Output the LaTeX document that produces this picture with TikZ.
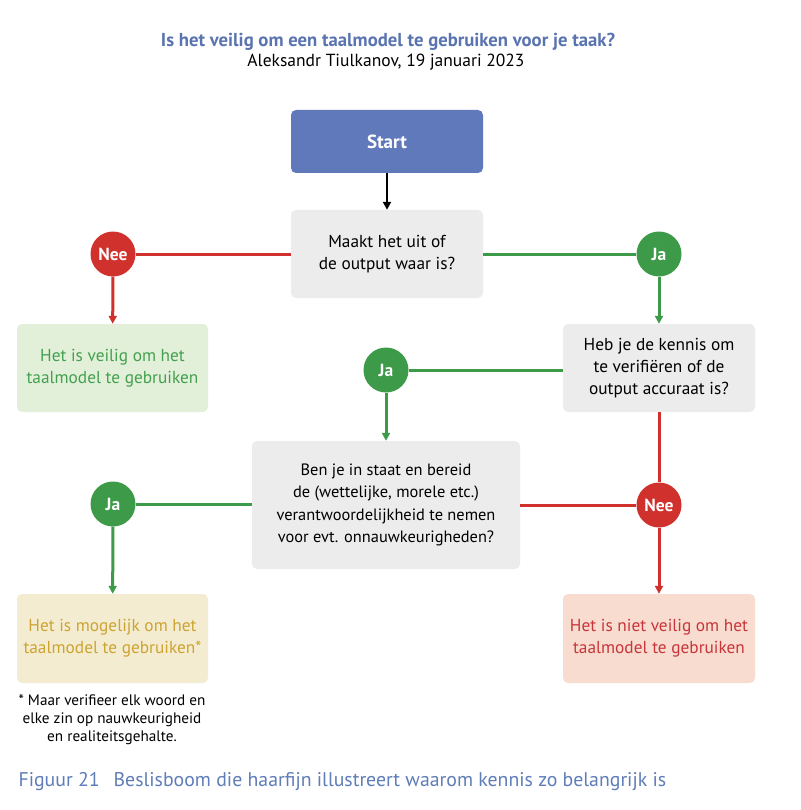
\documentclass[tikz,border=0pt]{standalone}
\usepackage{fontspec}
\setmainfont{PT Sans}
\usetikzlibrary{arrows.meta,positioning}
\definecolor{titleblue}{RGB}{90,116,176}
\definecolor{startblue}{RGB}{96,121,187}
\definecolor{boxgray}{RGB}{236,236,236}
\definecolor{myred}{RGB}{208,49,45}
\definecolor{mygreen}{RGB}{61,154,72}
\definecolor{safefill}{RGB}{226,240,218}
\definecolor{safetext}{RGB}{68,160,79}
\definecolor{goldfill}{RGB}{244,236,208}
\definecolor{goldtext}{RGB}{205,164,50}
\definecolor{pinkfill}{RGB}{247,220,207}
\definecolor{pinktext}{RGB}{200,53,58}
\definecolor{capblue}{RGB}{95,125,184}
\tikzset{
  box/.style={rounded corners=5pt, align=center, inner sep=0pt,
    font=\fontsize{17.3}{22}\selectfont},
  qbox/.style={box, fill=boxgray, text=black},
  circ/.style={circle, minimum size=45pt, inner sep=0pt, text=white,
    font=\fontsize{17.5}{20}\selectfont\bfseries},
  neec/.style={circ, fill=myred},
  jac/.style={circ, fill=mygreen},
  redline/.style={draw=myred, line width=3pt},
  greenline/.style={draw=mygreen, line width=3pt},
  tip/.style={-{Triangle[length=8pt,width=8pt]}},
}
\begin{document}
\begin{tikzpicture}[x=1pt,y=-1pt]
\useasboundingbox[fill=white] (0,0) rectangle (800,810);
\node[font=\fontsize{18.7}{22}\selectfont\bfseries, text=titleblue] (title) at (388,42) {Is het veilig om een taalmodel te gebruiken voor je taak?};
\node[font=\fontsize{17.5}{21}\selectfont] (author) at (386,62) {Aleksandr Tiulkanov, 19 januari 2023};

\node[box, fill=startblue, text=white, minimum width=192pt, minimum height=63pt, font=\fontsize{19}{22}\selectfont\bfseries] (start) at (387,141.5) {Start};
\node[qbox, minimum width=192pt, minimum height=88pt] (q1) at (387,254) {Maakt het uit of\\de output waar is?};
\node[neec] (nee1) at (113,254) {Nee};
\node[jac] (ja1) at (659,254) {Ja};
\node[box, fill=safefill, text=safetext, minimum width=191pt, minimum height=88pt] (safe) at (112.5,368) {Het is veilig om het\\taalmodel te gebruiken};
\node[qbox, minimum width=192pt, minimum height=88pt] (q2) at (659,368) {Heb je de kennis om\\te verifiëren of de\\output accuraat is?};
\node[jac] (ja2) at (386,370) {Ja};
\node[qbox, minimum width=268pt, minimum height=128pt, font=\fontsize{16.4}{22.5}\selectfont] (q3) at (386,505) {Ben je in staat en bereid\\de (wettelijke, morele etc.)\\verantwoordelijkheid te nemen\\voor evt. onnauwkeurigheden?};
\node[jac] (ja3) at (113,504) {Ja};
\node[neec] (nee2) at (659,505) {Nee};
\node[box, fill=goldfill, text=goldtext, minimum width=191pt, minimum height=89pt] (maybe) at (112.5,638.5) {Het is mogelijk om het\\taalmodel te gebruiken*};
\node[box, fill=pinkfill, text=pinktext, minimum width=192pt, minimum height=89pt] (unsafe) at (659,638.5) {Het is niet veilig om het\\taalmodel te gebruiken};
\node[align=center, font=\fontsize{15.2}{18}\selectfont] (note) at (112,720) {* Maar verifieer elk woord en\\elke zin op nauwkeurigheid\\en realiteitsgehalte.};
\node[anchor=west, text=capblue, font=\fontsize{19.8}{22}\selectfont] (caption) at (15,782) {Figuur 21\hspace{14pt}Beslisboom die haarfijn illustreert waarom kennis zo belangrijk is};

\draw[line width=2.4pt, tip] (start) -- (q1);
\draw[redline] (q1) -- (nee1);
\draw[redline, tip] (nee1) -- (safe);
\draw[greenline] (q1) -- (ja1);
\draw[greenline, tip] (ja1) -- (q2);
\draw[greenline] (ja2) -- (ja2 -| q2.west);
\draw[greenline, tip] (ja2) -- (q3);
\draw[greenline] (q3.west |- ja3) -- (ja3);
\draw[greenline, tip] (ja3) -- (maybe);
\draw[redline] (q2) -- (nee2);
\draw[redline] (nee2 -| q3.east) -- (nee2);
\draw[redline, tip] (nee2) -- (unsafe);
\end{tikzpicture}
\end{document}
